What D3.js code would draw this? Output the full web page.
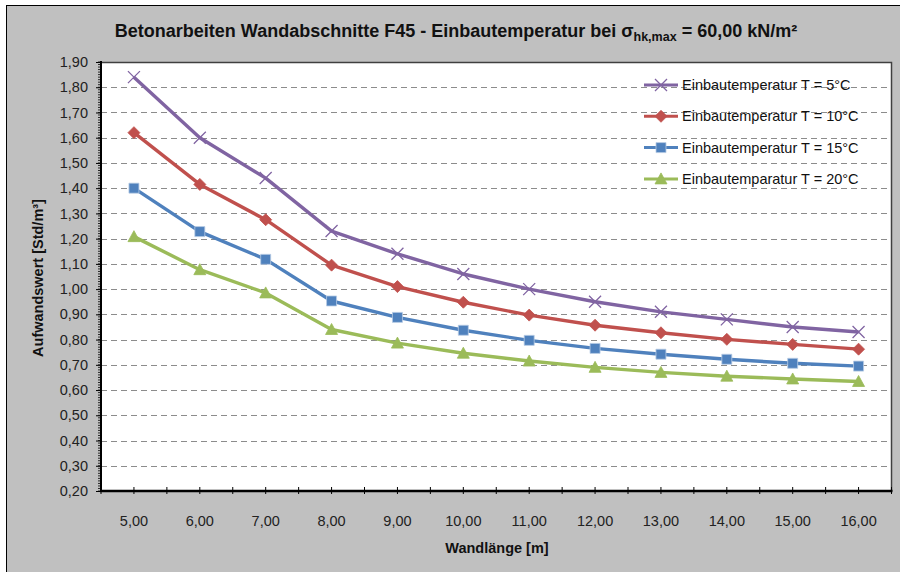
<!DOCTYPE html>
<html>
<head>
<meta charset="utf-8">
<script src="https://cdn.jsdelivr.net/npm/d3@7"></script>
<style>
  body { margin: 0; background: #fff; }
  svg { display: block; font-family: "Liberation Sans", Arial, sans-serif; }
</style>
</head>
<body>
<svg id="chart" width="900" height="572"></svg>
<script>
// data
var lengths = [5, 6, 7, 8, 9, 10, 11, 12, 13, 14, 15, 16];
var t5  = [1.84, 1.60, 1.44, 1.23, 1.14, 1.06, 1.00, 0.95, 0.91, 0.88, 0.85, 0.83];
var t10 = [1.62, 1.415, 1.275, 1.095, 1.01, 0.948, 0.897, 0.857, 0.827, 0.801, 0.781, 0.762];
var t15 = [1.40, 1.228, 1.118, 0.953, 0.888, 0.837, 0.797, 0.765, 0.742, 0.722, 0.706, 0.695];
var t20 = [1.208, 1.077, 0.985, 0.84, 0.786, 0.746, 0.715, 0.690, 0.670, 0.655, 0.644, 0.634];
var seriesNames = ['Einbautemperatur T = 5°C', 'Einbautemperatur T = 10°C',
                   'Einbautemperatur T = 15°C', 'Einbautemparatur T = 20°C'];
var seriesColors = ['#8064a2', '#c0504d', '#4f81bd', '#9bbb59'];
var yTicks = [0.2, 0.3, 0.4, 0.5, 0.6, 0.7, 0.8, 0.9, 1.0, 1.1, 1.2, 1.3, 1.4, 1.5, 1.6, 1.7, 1.8, 1.9];

var series = [t5, t10, t15, t20].map(function (vals, i) {
  return { name: seriesNames[i], color: seriesColors[i], marker: ['cross', 'diamond', 'square', 'triangle'][i],
           values: vals.map(function (v, j) { return { x: lengths[j], y: v }; }) };
});

var svg = d3.select('#chart');
var comma = function (v) { return v.toFixed(2).replace('.', ','); };

var pLeft = 101, pRight = 891.5, pTop = 62, pBottom = 491;

// outer chart frame
svg.append('rect')
  .attr('x', 6.5).attr('y', 5.5).attr('width', 910).attr('height', 590)
  .attr('fill', '#c0c0c0').attr('stroke', '#000').attr('stroke-width', 1);

var xScale = d3.scaleBand().domain(lengths).range([pLeft, pRight]);
var yScale = d3.scaleLinear().domain([0.2, 1.9]).range([pBottom, pTop]);
var cx = function (d) { return xScale(d) + xScale.bandwidth() / 2; };

svg.append('rect')
  .attr('x', pLeft).attr('y', pTop).attr('width', pRight - pLeft).attr('height', pBottom - pTop)
  .attr('fill', '#fff');

// dashed grid lines
svg.append('g')
  .selectAll('line')
  .data(yTicks.filter(function (t) { return t > 0.25 && t < 1.85; }))
  .enter().append('line')
  .attr('x1', pLeft).attr('x2', pRight)
  .attr('y1', function (d) { return Math.round(yScale(d)) + 0.5; })
  .attr('y2', function (d) { return Math.round(yScale(d)) + 0.5; })
  .attr('stroke', '#8c8c8c').attr('stroke-width', 1.2)
  .attr('stroke-dasharray', '6,4');

// plot border top / right
svg.append('path')
  .attr('d', 'M' + pLeft + ',' + (pTop + 0.5) + 'H' + pRight + 'V' + pBottom)
  .attr('fill', 'none').attr('stroke', '#404040').attr('stroke-width', 1.5);

// y axis
var yAxis = svg.append('g').attr('transform', 'translate(' + pLeft + ',0)')
  .call(d3.axisLeft(yScale).tickValues(yTicks).tickFormat(comma).tickSize(5).tickPadding(8));
yAxis.select('.domain').remove();
yAxis.selectAll('.tick line').attr('stroke', '#000');
yAxis.selectAll('.tick text').attr('font-size', 14.5).attr('fill', '#222')
  .attr('font-family', '"Liberation Sans", Arial, sans-serif');

// minor y ticks
svg.append('g')
  .selectAll('line')
  .data(d3.range(20, 191).map(function (i) { return i / 100; }))
  .enter().append('line')
  .attr('x1', pLeft - 3).attr('x2', pLeft)
  .attr('y1', function (d) { return yScale(d); })
  .attr('y2', function (d) { return yScale(d); })
  .attr('stroke', '#000').attr('stroke-width', 0.8);

svg.append('line')
  .attr('x1', pLeft).attr('x2', pLeft).attr('y1', pTop - 1).attr('y2', pBottom + 1)
  .attr('stroke', '#000').attr('stroke-width', 2);

// x axis ticks at band edges and centres
var halfTicks = [];
lengths.forEach(function (l) {
  halfTicks.push(xScale(l));
  halfTicks.push(cx(l));
});
halfTicks.push(pRight);
svg.append('g')
  .selectAll('line')
  .data(halfTicks)
  .enter().append('line')
  .attr('x1', function (d) { return d; }).attr('x2', function (d) { return d; })
  .attr('y1', pBottom - 4).attr('y2', pBottom + 3)
  .attr('stroke', '#000').attr('stroke-width', 1);

svg.append('line')
  .attr('x1', pLeft - 1).attr('x2', pRight + 1).attr('y1', pBottom).attr('y2', pBottom)
  .attr('stroke', '#000').attr('stroke-width', 2.5);

svg.append('g')
  .selectAll('text')
  .data(lengths)
  .enter().append('text')
  .attr('x', cx)
  .attr('y', 526)
  .attr('text-anchor', 'middle')
  .attr('font-size', 14.5).attr('fill', '#222')
  .text(comma);

// lines and markers
var line = d3.line()
  .x(function (d) { return cx(d.x); })
  .y(function (d) { return yScale(d.y); });

function drawMarker(g, type, color) {
  if (type === 'cross') {
    g.append('path').attr('d', 'M-6,-6L6,6M-6,6L6,-6')
      .attr('stroke', color).attr('stroke-width', 1.3).attr('fill', 'none');
  } else if (type === 'diamond') {
    g.append('path').attr('d', 'M0,-6L6,0L0,6L-6,0Z')
      .attr('fill', color).attr('stroke', color).attr('stroke-width', 0.8);
  } else if (type === 'square') {
    g.append('path').attr('d', d3.symbol().type(d3.symbolSquare).size(100)())
      .attr('fill', color).attr('stroke', '#b8cce4').attr('stroke-width', 0.8);
  } else {
    g.append('path').attr('d', 'M0,-6L6,5L-6,5Z')
      .attr('fill', color).attr('stroke', color).attr('stroke-width', 0.8);
  }
}

series.forEach(function (s) {
  svg.append('path')
    .datum(s.values)
    .attr('d', line)
    .attr('fill', 'none').attr('stroke', s.color).attr('stroke-width', 3.4)
    .attr('stroke-linejoin', 'round');
  s.values.forEach(function (d) {
    var g = svg.append('g')
      .attr('transform', 'translate(' + cx(d.x) + ',' + yScale(d.y) + ')');
    drawMarker(g, s.marker, s.color);
  });
});

// legend
var legend = svg.append('g').attr('transform', 'translate(644,85)');
series.forEach(function (s, i) {
  var row = legend.append('g').attr('transform', 'translate(0,' + (i * 31.3) + ')');
  row.append('line').attr('x1', 0).attr('x2', 34).attr('y1', 0).attr('y2', 0)
    .attr('stroke', s.color).attr('stroke-width', 3);
  drawMarker(row.append('g').attr('transform', 'translate(17,0)'), s.marker, s.color);
  row.append('text').attr('x', 38).attr('y', 5)
    .attr('font-size', 14.5).attr('fill', '#111')
    .text(s.name);
});

// titles
var title = svg.append('text')
  .attr('x', 456).attr('y', 37)
  .attr('text-anchor', 'middle')
  .attr('font-size', 18).attr('font-weight', 'bold').attr('fill', '#111');
title.append('tspan').text('Betonarbeiten Wandabschnitte F45 - Einbautemperatur bei σ');
title.append('tspan').attr('font-size', 12.5).attr('dy', 4).text('hk,max');
title.append('tspan').attr('dy', -4).text(' = 60,00 kN/m²');

svg.append('text')
  .attr('x', 497).attr('y', 553)
  .attr('text-anchor', 'middle')
  .attr('font-size', 14.5).attr('font-weight', 'bold').attr('fill', '#111')
  .text('Wandlänge [m]');

svg.append('text')
  .attr('transform', 'translate(43,278) rotate(-90)')
  .attr('text-anchor', 'middle')
  .attr('font-size', 14.5).attr('font-weight', 'bold').attr('fill', '#111')
  .text('Aufwandswert [Std/m³]');
</script>
</body>
</html>
